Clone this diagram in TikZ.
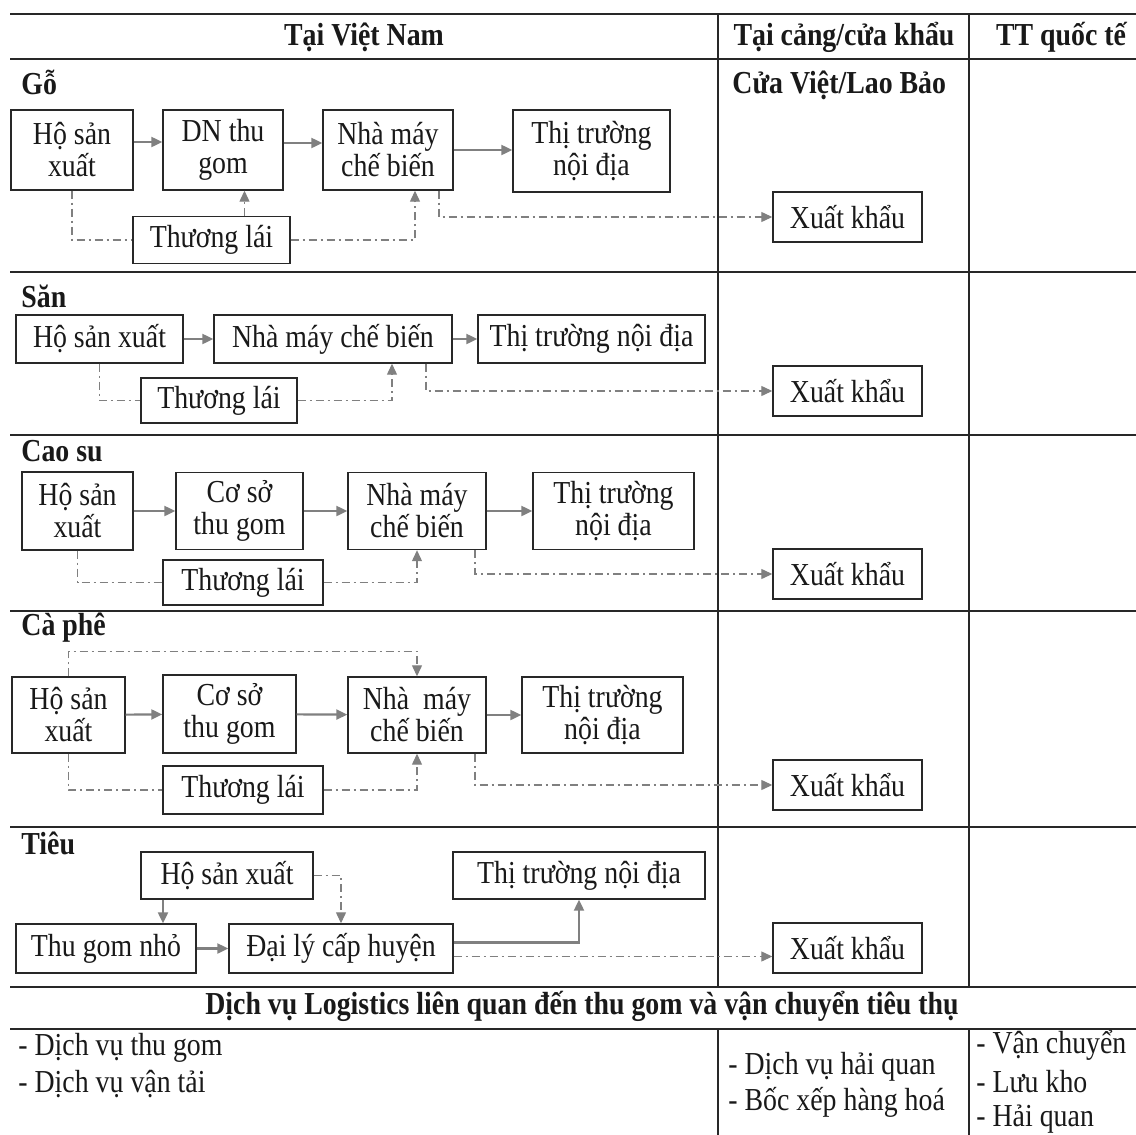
\documentclass[tikz,border=0pt]{standalone}
\usepackage{fontspec}
\setmainfont{Liberation Serif}[FakeStretch=0.87]
\usetikzlibrary{arrows.meta}
\definecolor{lineclr}{RGB}{40,40,40}
\definecolor{arrowclr}{RGB}{128,128,128}
\definecolor{txtclr}{RGB}{25,25,25}
\tikzset{
    box/.style={draw=lineclr, line width=0.7pt, align=center, inner sep=1pt, text=txtclr, font=\fontsize{16}{16}\selectfont},
    boxsize/.style 2 args={minimum width=#1*0.5pt, minimum height=#2*0.5pt},
    flow/.style={draw=arrowclr, line width=1.1pt, -{Triangle[length=5.5pt,width=5pt]}},
    trade/.style={draw=arrowclr, line width=0.6pt, dash pattern=on 4pt off 2pt on 1pt off 2pt, -{Triangle[length=5.5pt,width=5pt]}},
    tableline/.style={draw=lineclr, line width=0.8pt},
    headtext/.style={font=\fontsize{16}{16}\selectfont\bfseries, text=txtclr, inner sep=0pt},
    sectlabel/.style={headtext, anchor=west},
    item/.style={font=\fontsize{16}{16}\selectfont, text=txtclr, anchor=west, inner sep=0pt},
}

\begin{document}
\begin{tikzpicture}[x=0.5pt,y=-0.5pt]
  \useasboundingbox (0,0) rectangle (1136,1135);
  % TABLE RULES
  \foreach \y in {14,59,272,435,611,827,987,1029}
    \draw[tableline] (10,\y) -- (1136,\y);
  \foreach \x in {718,969}{
    \draw[tableline] (\x,14) -- (\x,987);
    \draw[tableline] (\x,1029) -- (\x,1135);
  }
  % HEADERS
  \node[headtext] (h-vn) at (364,37) {Tại Việt Nam};
  \node[headtext] (h-port) at (844,37) {Tại cảng/cửa khẩu};
  \node[headtext] (h-intl) at (1061,37) {TT quốc tế};
  \node[sectlabel] (l-port) at (732,85) {Cửa Việt/Lao Bảo};
  \node[sectlabel] (l-go) at (21,82) {Gỗ};
  \node[sectlabel] (l-san) at (21,296) {Săn};
  \node[sectlabel] (l-cao) at (21,451) {Cao su};
  \node[sectlabel] (l-cafe) at (21,628) {Cà phê};
  \node[sectlabel] (l-tieu) at (21,843) {Tiêu};
  % Xuat khau (one per row)
  \foreach \y/\n in {217/g,391/s,574/c,785/p,948/t}
    \node[box, boxsize={149}{50}] (\n-xk) at (847.5,\y) {Xuất khẩu};
  % Row 1: Go
  \node[box, boxsize={122}{80}] (g-ho) at (72,150) {Hộ sản\\xuất};
  \node[box, boxsize={120}{80}] (g-dn) at (223,150) {DN thu\\gom};
  \node[box, boxsize={130}{80}] (g-nm) at (388,150) {Nhà máy\\chế biến};
  \node[box, boxsize={157}{82}] (g-tt) at (591.5,151) {Thị trường\\nội địa};
  \node[box, boxsize={157}{47}] (g-tl) at (211.5,240) {Thương lái};
  \draw[flow] ([yshift=4pt]g-ho.east) -- ([yshift=4pt]g-dn.west);
  \draw[flow] ([yshift=3.5pt]g-dn.east) -- ([yshift=3.5pt]g-nm.west);
  \draw[flow] (g-nm.east) -- (g-nm.east -| g-tt.west);
  \draw[trade, -] (g-ho.south) |- (g-tl.west);
  \draw[trade] ([xshift=16.5pt]g-tl.north) -- ([xshift=16.5pt]g-tl.north |- g-dn.south);
  \draw[trade] (g-tl.east) -| ([xshift=13.5pt]g-nm.south);
  \draw[trade] ([xshift=25.5pt]g-nm.south) |- (g-xk.west);
  % Row 2: San
  \node[box, boxsize={167}{48}] (s-ho) at (99.5,339) {Hộ sản xuất};
  \node[box, boxsize={238}{48}] (s-nm) at (333,339) {Nhà máy chế biến};
  \node[box, boxsize={227}{48}] (s-tt) at (591.5,339) {Thị trường nội địa};
  \node[box, boxsize={156}{45}] (s-tl) at (219,400.5) {Thương lái};
  \draw[flow] (s-ho) -- (s-nm);
  \draw[flow] (s-nm) -- (s-tt);
  \draw[trade, -] (s-ho.south) |- (s-tl.west);
  \draw[trade] (s-tl.east) -| ([xshift=29.5pt]s-nm.south);
  \draw[trade] ([xshift=46.5pt]s-nm.south) |- (s-xk.west);
  % Row 3: Cao su
  \node[box, boxsize={111}{78}] (c-ho) at (77.5,511) {Hộ sản\\xuất};
  \node[box, boxsize={127}{77}] (c-cs) at (239.5,511) {Cơ sở\\thu gom};
  \node[box, boxsize={138}{77}] (c-nm) at (417,511) {Nhà máy\\chế biến};
  \node[box, boxsize={161}{77}] (c-tt) at (613.5,511) {Thị trường\\nội địa};
  \node[box, boxsize={160}{45}] (c-tl) at (243,582.5) {Thương lái};
  \draw[flow] (c-ho) -- (c-cs);
  \draw[flow] (c-cs) -- (c-nm);
  \draw[flow] (c-nm) -- (c-tt);
  \draw[trade, -] (c-ho.south) |- (c-tl.west);
  \draw[trade] (c-tl.east) -| (c-nm.south);
  \draw[trade] ([xshift=29pt]c-nm.south) |- (c-xk.west);
  % Row 4: Ca phe
  \node[box, boxsize={113}{76}] (p-ho) at (68.5,715) {Hộ sản\\xuất};
  \node[box, boxsize={133}{78}] (p-cs) at (229.5,714) {Cơ sở\\thu gom};
  \node[box, boxsize={138}{76}] (p-nm) at (417,715) {Nhà~~máy\\chế biến};
  \node[box, boxsize={161}{76}] (p-tt) at (602.5,715) {Thị trường\\nội địa};
  \node[box, boxsize={160}{48}] (p-tl) at (243,790) {Thương lái};
  \draw[flow] (p-ho) -- (p-cs);
  \draw[flow] (p-cs) -- (p-nm);
  \draw[flow] (p-nm) -- (p-tt);
  \draw[trade] (p-ho.north) -- ++(0,-25) -| (p-nm.north);
  \draw[trade, -] (p-ho.south) |- (p-tl.west);
  \draw[trade] (p-tl.east) -| (p-nm.south);
  \draw[trade] ([xshift=29pt]p-nm.south) |- (p-xk.west);
  % Row 5: Tieu
  \node[box, boxsize={172}{47}] (t-ho) at (227,875.5) {Hộ sản xuất};
  \node[box, boxsize={252}{47}] (t-tt) at (579,875.5) {Thị trường nội địa};
  \node[box, boxsize={180}{49}] (t-tg) at (106,948.5) {Thu gom nhỏ};
  \node[box, boxsize={224}{49}] (t-dl) at (341,948.5) {Đại lý cấp huyện};
  \draw[flow] ([xshift=-32pt]t-ho.south) -- ([xshift=-32pt]t-ho.south |- t-tg.north);
  \draw[trade] (t-ho.east) -| (t-dl.north);
  \draw[flow] (t-tg) -- (t-dl);
  \draw[flow] ([yshift=3pt]t-dl.east) -| (t-tt.south);
  \draw[trade] ([yshift=-4pt]t-dl.east) -- ([yshift=-4pt]t-dl.east -| t-xk.west);
  % LOGISTICS
  \node[headtext] (h-logi) at (582,1006) {Dịch vụ Logistics liên quan đến thu gom và vận chuyển tiêu thụ};
  \node[item] (i-thugom) at (18,1048) {- Dịch vụ thu gom};
  \node[item] (i-vantai) at (18,1084) {- Dịch vụ vận tải};
  \node[item] (i-haiquan) at (728,1067) {- Dịch vụ hải quan};
  \node[item] (i-bocxep) at (728,1102) {- Bốc xếp hàng hoá};
  \node[item] (i-vanchuyen) at (976,1045) {- Vận chuyển};
  \node[item] (i-luukho) at (976,1082) {- Lưu kho};
  \node[item] (i-hq) at (976,1119) {- Hải quan};
\end{tikzpicture}
\end{document}
